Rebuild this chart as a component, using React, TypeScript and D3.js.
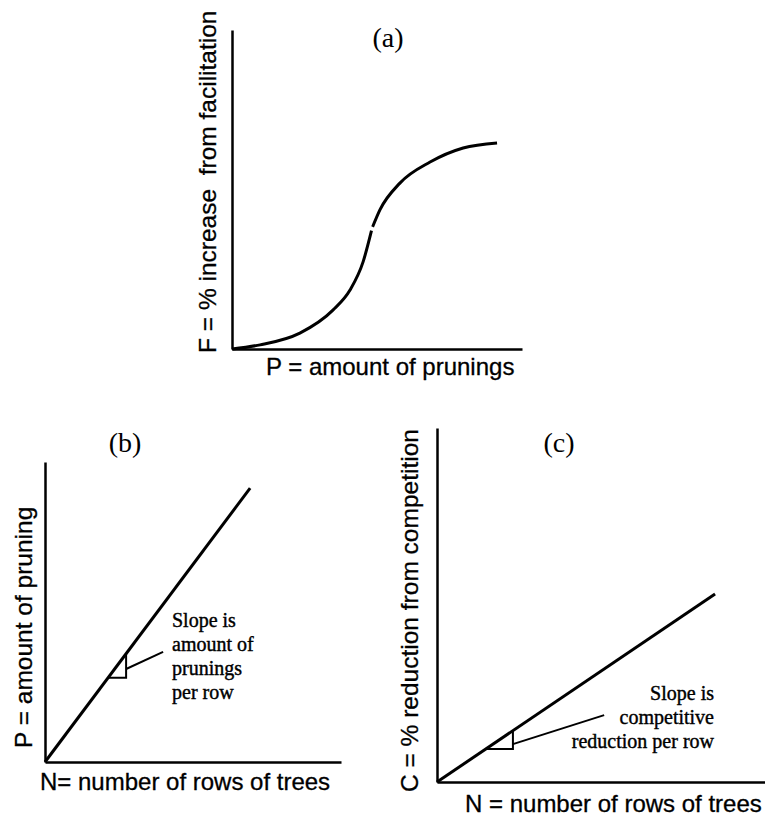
import React, { useRef, useEffect } from 'react';
import * as d3 from 'd3';

// (a) facilitation vs prunings, in two pieces (the original has a small break)
const facilitationLow = [[0, 0], [9.7, 1.3], [23.4, 5], [34.8, 12.2], [40.7, 18.5], [45.2, 27.3], [48.1, 37.1]];
const facilitationHigh = [[48.5, 38.3], [51, 43.6], [57.9, 52], [68.3, 58.6], [79.7, 63], [91.4, 64.6]];

// (b) prunings vs rows
const pruningLine = [[0, 0], [69.3, 91.3]];
const pruningTriangle = [[21.3, 28.1], [27.4, 28.1], [27.4, 36.1]];
const pruningLeader = [[27.4, 31], [39.9, 36.7]];
const pruningNote = ['Slope is', 'amount of', 'prunings', 'per row'];

// (c) competition vs rows
const competitionLine = [[0, 0], [83.5, 53.1]];
const competitionTriangle = [[14.7, 9.3], [22.8, 9.3], [22.8, 14.5]];
const competitionLeader = [[22.8, 10.7], [50.2, 18.9]];
const competitionNote = ['Slope is', 'competitive', 'reduction per row'];

const titles = ['(a)', '(b)', '(c)'];
const xLabels = ['P = amount of prunings', 'N= number of rows of trees', 'N = number of rows of trees'];
const yLabels = ['F = % increase  from facilitation', 'P = amount of pruning', 'C = % reduction from competition'];

const SANS = 'Liberation Sans, Arial, sans-serif';
const SERIF = 'Liberation Serif, Times New Roman, serif';

function drawPanel(svg, p, i) {
    const x = d3.scaleLinear().domain([0, 100]).range([p.left, p.right]);
    const y = d3.scaleLinear().domain([0, 100]).range([p.bottom, p.top]);
    const g = svg.append('g');

    const xAxis = d3.axisBottom(x).tickValues([]).tickSizeOuter(0);
    const yAxis = d3.axisLeft(y).tickValues([]).tickSizeOuter(0);
    g.append('g').attr('transform', `translate(0,${p.bottom})`).call(xAxis)
        .select('.domain').attr('stroke', '#000').attr('stroke-width', 2.5);
    g.append('g').attr('transform', `translate(${p.left},0)`).call(yAxis)
        .select('.domain').attr('stroke', '#000').attr('stroke-width', 2.5);

    g.append('text')
        .attr('x', p.titleX).attr('y', p.titleY)
        .attr('text-anchor', 'middle')
        .style('font-family', SERIF).style('font-size', '28px')
        .text(titles[i]);

    g.append('text')
        .attr('x', p.xLabelX).attr('y', p.xLabelY)
        .style('font-family', SANS).style('font-size', '24px')
        .style('white-space', 'pre')
        .attr('stroke', '#000').attr('stroke-width', 0.3)
        .text(xLabels[i]);

    g.append('text')
        .attr('transform', `translate(${p.yLabelX},${p.yLabelY}) rotate(-90)`)
        .style('font-family', SANS).style('font-size', '24.5px')
        .style('white-space', 'pre')
        .attr('stroke', '#000').attr('stroke-width', 0.3)
        .text(yLabels[i]);

    return { g, x, y };
}

function App() {
    const svgRef = useRef(null);

    useEffect(() => {
        const svg = d3.select(svgRef.current);
        svg.selectAll('*').remove();

        const panels = [
            { left: 232, right: 522, bottom: 349, top: 30, titleX: 388, titleY: 47, xLabelX: 266, xLabelY: 375, yLabelX: 216, yLabelY: 353 },
            { left: 45, right: 341, bottom: 762, top: 462, titleX: 125, titleY: 452, xLabelX: 40, xLabelY: 790, yLabelX: 32, yLabelY: 748 },
            { left: 437, right: 770, bottom: 782, top: 428, titleX: 559, titleY: 452, xLabelX: 465, xLabelY: 812, yLabelX: 418, yLabelY: 792 },
        ];

        // (a)
        const a = drawPanel(svg, panels[0], 0);
        const curveA = d3.line().x(d => a.x(d[0])).y(d => a.y(d[1])).curve(d3.curveMonotoneX);
        [facilitationLow, facilitationHigh].forEach(seg => {
            a.g.append('path').attr('d', curveA(seg))
                .attr('fill', 'none').attr('stroke', '#000').attr('stroke-width', 3);
        });

        // (b) and (c)
        const lineSets = [
            { idx: 1, line: pruningLine, tri: pruningTriangle, leader: pruningLeader, note: pruningNote, noteX: 172, noteY: 627, anchor: 'start' },
            { idx: 2, line: competitionLine, tri: competitionTriangle, leader: competitionLeader, note: competitionNote, noteX: 714, noteY: 700, anchor: 'end' },
        ];
        lineSets.forEach(s => {
            const p = drawPanel(svg, panels[s.idx], s.idx);
            const gen = d3.line().x(d => p.x(d[0])).y(d => p.y(d[1]));
            p.g.append('path').attr('d', gen(s.line))
                .attr('fill', 'none').attr('stroke', '#000').attr('stroke-width', 3);
            p.g.append('path').attr('d', gen(s.tri))
                .attr('fill', 'none').attr('stroke', '#000').attr('stroke-width', 2);
            p.g.append('path').attr('d', gen(s.leader))
                .attr('fill', 'none').attr('stroke', '#000').attr('stroke-width', 2);
            p.g.selectAll('.note')
                .data(s.note)
                .join('text')
                .attr('x', s.noteX)
                .attr('y', (d, j) => s.noteY + j * 24)
                .attr('text-anchor', s.anchor)
                .attr('stroke', '#000').attr('stroke-width', 0.4)
                .style('font-family', SERIF).style('font-size', '20px')
                .text(d => d);
        });
    }, []);

    return (
        <svg ref={svgRef} width={765} height={817}
            style={{ position: 'absolute', left: 0, top: 0, background: '#fff' }} />
    );
}

export default App;
